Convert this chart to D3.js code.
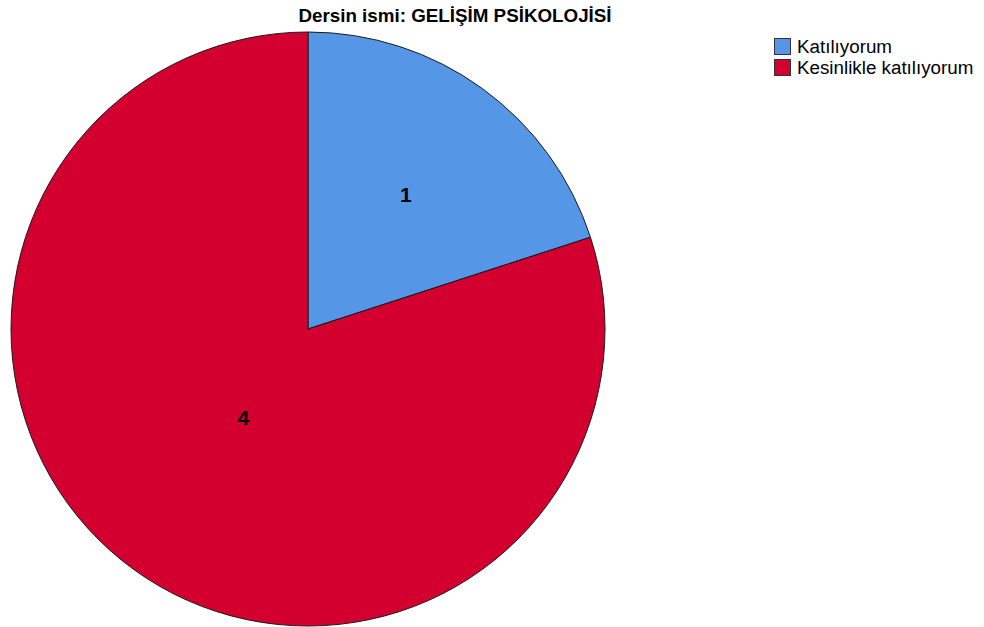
<!DOCTYPE html>
<html><head><meta charset="utf-8">
<script src="https://cdn.jsdelivr.net/npm/d3@7"></script>
<style>body{margin:0;background:#fff}svg{display:block}</style>
</head><body>
<svg id="c" width="984" height="627"></svg>
<script>
const title = "Dersin ismi: GELİŞİM PSİKOLOJİSİ";
const categories = ["Katılıyorum", "Kesinlikle katılıyorum"];
const values = [1, 4];
const colors = ["#5596E6", "#D3002F"];

const svg = d3.select("#c");
const cx = 308, cy = 329, r = 297;
const font = "Liberation Sans, Arial, sans-serif";

svg.append("text").attr("x", 455).attr("y", 22).attr("text-anchor", "middle")
  .attr("font-family", font).attr("font-weight", "bold")
  .attr("font-size", 18.8).attr("fill", "#000").text(title);

const color = d3.scaleOrdinal().domain(categories).range(colors);
const pie = d3.pie().sort(null).value(d => d.v);
const data = categories.map((c, i) => ({c, v: values[i]}));
const arcs = pie(data);
const total = d3.sum(values);
const arc = d3.arc().innerRadius(0).outerRadius(r);

const g = svg.append("g").attr("transform", `translate(${cx},${cy})`);
g.selectAll("path").data(arcs).join("path")
  .attr("d", arc).attr("fill", d => color(d.data.c))
  .attr("stroke", "#1a1a1a").attr("stroke-width", 1);

g.selectAll("text.lbl").data(arcs).join("text").attr("class", "lbl")
  .attr("transform", d => {
    const small = d.data.v / total < 0.5;
    const lr = small ? r * 0.56 : r * 0.37;
    const a = (d.startAngle + d.endAngle) / 2;
    return `translate(${lr * Math.sin(a)},${-lr * Math.cos(a)})`;
  })
  .attr("text-anchor", "middle").attr("dy", "0.36em")
  .attr("font-family", font).attr("font-weight", "bold")
  .attr("font-size", 21).attr("fill", "#000").text(d => d.data.v);

const leg = svg.append("g").attr("transform", "translate(774,38)");
const item = leg.selectAll("g").data(categories).join("g")
  .attr("transform", (d, i) => `translate(0,${i * 21})`);
item.append("rect").attr("x", 0.5).attr("y", 0.5).attr("width", 16).attr("height", 16)
  .attr("fill", d => color(d)).attr("stroke", "#333").attr("stroke-width", 1);
item.append("text").attr("x", 23).attr("y", 15)
  .attr("font-family", font).attr("font-size", 18.8)
  .attr("fill", "#000").text(d => d);
</script>
</body></html>
